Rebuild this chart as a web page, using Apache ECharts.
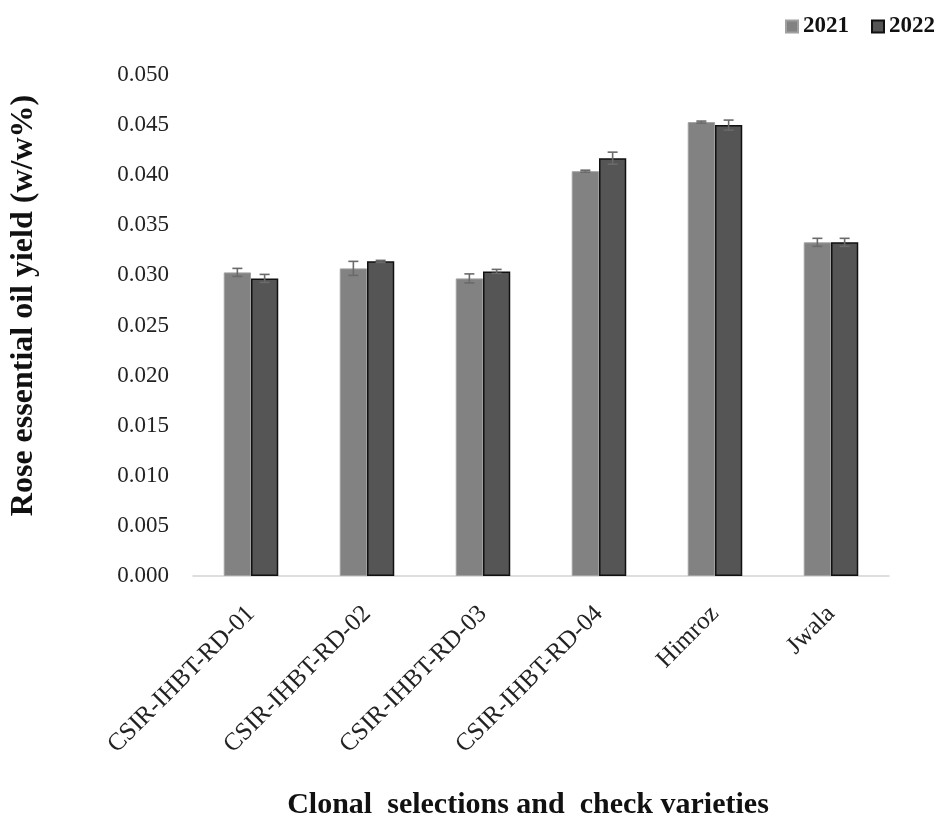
<!DOCTYPE html>
<html>
<head>
<meta charset="utf-8">
<script src="https://cdn.jsdelivr.net/npm/echarts@6/dist/echarts.min.js"></script>
<style>html,body{margin:0;padding:0;background:#fff;}#c{width:946px;height:820px;}</style>
</head>
<body>
<div id="c"></div>
<script>
const categories = ['CSIR-IHBT-RD-01', 'CSIR-IHBT-RD-02', 'CSIR-IHBT-RD-03', 'CSIR-IHBT-RD-04', 'Himroz', 'Jwala'];
const seriesNames = ['2021', '2022'];
const values2021 = [0.0303, 0.0307, 0.0297, 0.0404, 0.0453, 0.0333];
const values2022 = [0.0297, 0.0314, 0.0304, 0.0417, 0.0450, 0.0333];
const err2021 = [0.0004, 0.0007, 0.00045, 0.0001, 0.0001, 0.0004];
const err2022 = [0.0004, 0.0001, 0.0002, 0.0006, 0.0005, 0.0004];
const yTicks = { min: 0, max: 0.05, interval: 0.005 };

const FONT = '"Liberation Serif", "Times New Roman", serif';
const GAP = 0.53;

function errSeries(name, vals, errs, side) {
  return {
    type: 'custom',
    name: name + ' err',
    z: 5,
    silent: true,
    data: vals.map((v, i) => [i, v, errs[i]]),
    renderItem: function (params, api) {
      const i = api.value(0), v = api.value(1), e = api.value(2);
      const band = api.size([1, 0])[0];
      const bw = band * (1 - GAP) / 2;
      const c = api.coord([i, v]);
      const x = c[0] + side * bw / 2;
      const yHi = api.coord([i, v + e])[1];
      const yLo = api.coord([i, v - e])[1];
      const cap = 5;
      const st = { stroke: '#6a6a6a', lineWidth: 1.6 };
      return {
        type: 'group',
        children: [
          { type: 'line', shape: { x1: x, y1: yHi, x2: x, y2: yLo }, style: st },
          { type: 'line', shape: { x1: x - cap, y1: yHi, x2: x + cap, y2: yHi }, style: st },
          { type: 'line', shape: { x1: x - cap, y1: yLo, x2: x + cap, y2: yLo }, style: st }
        ]
      };
    }
  };
}

const chart = echarts.init(document.getElementById('c'));
chart.setOption({
  backgroundColor: '#fff',
  animation: false,
  legend: {
    data: seriesNames,
    right: 6,
    top: 10,
    itemWidth: 12,
    itemHeight: 12,
    itemGap: 22,
    icon: 'rect',
    textStyle: { fontFamily: FONT, fontWeight: 'bold', fontSize: 23, color: '#111' }
  },
  grid: { left: 193, right: 57, top: 75, bottom: 244, containLabel: false, outerBoundsMode: 'none' },
  xAxis: {
    type: 'category',
    data: categories,
    axisLine: { lineStyle: { color: '#d4d4d4', width: 1.5 } },
    axisTick: { show: false },
    axisLabel: {
      rotate: 45,
      interval: 0,
      margin: 34,
      fontFamily: FONT,
      fontSize: 25,
      color: '#222'
    },
    name: 'Clonal  selections and  check varieties',
    nameLocation: 'middle',
    nameGap: 214,
    nameTextStyle: { fontFamily: FONT, fontSize: 30, fontWeight: 'bold', color: '#111', padding: [0, 26, 0, 0] }
  },
  yAxis: {
    type: 'value',
    min: yTicks.min,
    max: yTicks.max,
    interval: yTicks.interval,
    splitLine: { show: false },
    axisLine: { show: false },
    axisTick: { show: false },
    axisLabel: {
      margin: 24,
      fontFamily: FONT,
      fontSize: 23,
      color: '#222',
      formatter: v => v.toFixed(3)
    },
    name: 'Rose essential oil yield (w/w%)',
    nameLocation: 'middle',
    nameGap: 153,
    nameRotate: 90,
    nameTextStyle: { fontFamily: FONT, fontSize: 32, fontWeight: 'bold', color: '#111', padding: [0, 0, 0, 40] }
  },
  series: [
    {
      name: seriesNames[0],
      type: 'bar',
      data: values2021,
      barGap: '0%',
      barCategoryGap: (GAP * 100) + '%',
      itemStyle: { color: '#828282', borderColor: '#a0a0a0', borderWidth: 1 }
    },
    {
      name: seriesNames[1],
      type: 'bar',
      data: values2022,
      itemStyle: { color: '#555555', borderColor: '#111111', borderWidth: 1.5 }
    },
    errSeries(seriesNames[0], values2021, err2021, -1),
    errSeries(seriesNames[1], values2022, err2022, 1)
  ]
});
</script>
</body>
</html>
